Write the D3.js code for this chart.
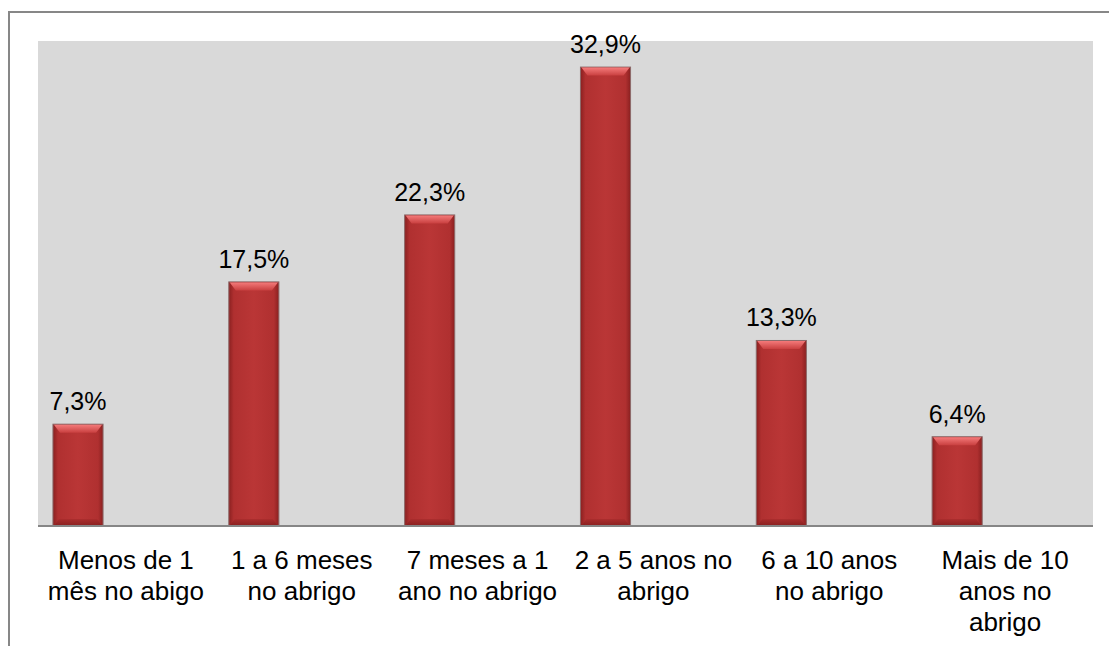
<!DOCTYPE html>
<html>
<head>
<meta charset="utf-8">
<script src="https://cdn.jsdelivr.net/npm/d3@7"></script>
<style>
  body { margin: 0; background: #fff; }
  text { font-family: "Liberation Sans", Arial, sans-serif; fill: #000; }
</style>
</head>
<body>
<div id="chart"></div>
<script>
const W = 1109, H = 646

// data
const categories = ["Menos de 1 mês no abigo", "1 a 6 meses no abrigo", "7 meses a 1 ano no abrigo",
    "2 a 5 anos no abrigo", "6 a 10 anos no abrigo", "Mais de 10 anos no abrigo"]
const labelLines = [["Menos de 1", "mês no abigo"], ["1 a 6 meses", "no abrigo"], ["7 meses a 1", "ano no abrigo"],
    ["2 a 5 anos no", "abrigo"], ["6 a 10 anos", "no abrigo"], ["Mais de 10", "anos no", "abrigo"]]
const values = [7.3, 17.5, 22.3, 32.9, 13.3, 6.4]
const valueLabels = ["7,3%", "17,5%", "22,3%", "32,9%", "13,3%", "6,4%"]

const plot = {left: 38, right: 1093, top: 41, bottom: 526}

//scales
const x = d3.scaleBand()
    .domain(categories)
    .range([plot.left, plot.right])
    .padding(0)

const y = d3.scaleLinear()
    .domain([0, 34.77])
    .range([plot.bottom, plot.top])

const barOff = x.bandwidth() * 0.085
const barW = x.bandwidth() * 0.285

const svg = d3.select("#chart").append("svg")
    .attr("width", W)
    .attr("height", H)

// gradients
const defs = svg.append("defs")
const g1 = defs.append("linearGradient").attr("id", "body").attr("x1", 0).attr("x2", 1).attr("y1", 0).attr("y2", 0)
g1.append("stop").attr("offset", "0%").attr("stop-color", "#8a2020")
g1.append("stop").attr("offset", "10%").attr("stop-color", "#b03030")
g1.append("stop").attr("offset", "50%").attr("stop-color", "#ba3636")
g1.append("stop").attr("offset", "90%").attr("stop-color", "#b03030")
g1.append("stop").attr("offset", "100%").attr("stop-color", "#8a2020")

const g2 = defs.append("linearGradient").attr("id", "bevel").attr("x1", 0).attr("x2", 0).attr("y1", 0).attr("y2", 1)
g2.append("stop").attr("offset", "0%").attr("stop-color", "#f47a7a")
g2.append("stop").attr("offset", "100%").attr("stop-color", "#c94040")

const g3 = defs.append("linearGradient").attr("id", "bottom").attr("x1", 0).attr("x2", 0).attr("y1", 0).attr("y2", 1)
g3.append("stop").attr("offset", "0%").attr("stop-color", "#a82c2c")
g3.append("stop").attr("offset", "100%").attr("stop-color", "#7e1c1c")

// outer frame (cut off at right and bottom)
svg.append("path")
    .attr("d", "M9," + H + "V12H" + W)
    .attr("fill", "none")
    .attr("stroke", "#878787")
    .attr("stroke-width", 2)

// plot area
svg.append("rect")
    .attr("x", plot.left)
    .attr("y", plot.top)
    .attr("width", plot.right - plot.left)
    .attr("height", plot.bottom - plot.top)
    .attr("fill", "#d9d9d9")

const bars = svg.selectAll("g.bar")
    .data(values)
    .enter()
    .append("g")
    .attr("class", "bar")
    .attr("transform", (d, i) => "translate(" + (x(categories[i]) + barOff) + ",0)")

bars.append("rect")
    .attr("x", 0)
    .attr("y", d => y(d))
    .attr("width", barW)
    .attr("height", d => y(0) - y(d))
    .attr("fill", "url(#body)")
    .attr("stroke", "#8c6a6a")
    .attr("stroke-width", 1)

// top bevel
bars.append("polygon")
    .attr("points", d => {
        const t = y(d) + 0.5
        return [1, t, barW - 1, t, barW - 7, t + 8, 7, t + 8].join(" ")
    })
    .attr("fill", "url(#bevel)")

// bottom shade
bars.append("polygon")
    .attr("points", d => {
        const b = y(0)
        return [1, b, barW - 1, b, barW - 6, b - 7, 6, b - 7].join(" ")
    })
    .attr("fill", "url(#bottom)")
    .attr("opacity", 0.8)

// value labels
svg.selectAll("text.value")
    .data(values)
    .enter()
    .append("text")
    .attr("class", "value")
    .attr("text-anchor", "middle")
    .attr("font-size", 25)
    .attr("x", (d, i) => x(categories[i]) + barOff + barW / 2)
    .attr("y", d => y(d) - 14)
    .text((d, i) => valueLabels[i])

// axis line
svg.append("line")
    .attr("x1", plot.left)
    .attr("x2", plot.right)
    .attr("y1", plot.bottom)
    .attr("y2", plot.bottom)
    .attr("stroke", "#868686")
    .attr("stroke-width", 2)

// category labels
const cat = svg.selectAll("text.cat")
    .data(categories)
    .enter()
    .append("text")
    .attr("class", "cat")
    .attr("text-anchor", "middle")
    .attr("font-size", 26)
    .attr("x", d => x(d) + x.bandwidth() / 2)
    .attr("y", 569)

cat.selectAll("tspan")
    .data((d, i) => labelLines[i])
    .enter()
    .append("tspan")
    .attr("x", function () { return d3.select(this.parentNode).attr("x") })
    .attr("dy", (d, i) => i === 0 ? 0 : 31)
    .text(d => d)
</script>
</body>
</html>
